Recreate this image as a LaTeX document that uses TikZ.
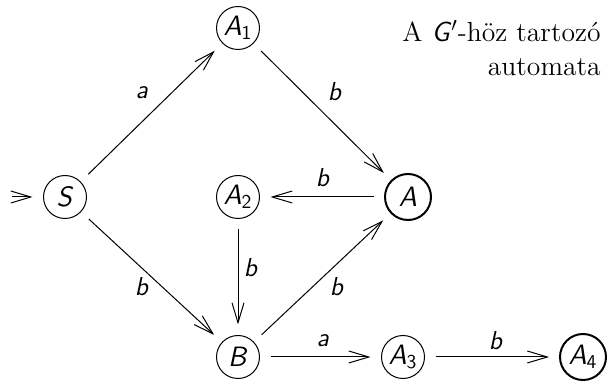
\documentclass[tikz,border=0pt]{standalone}
\usepackage{fontspec}
\usetikzlibrary{arrows.meta}
\newcommand\sv[1]{\textsf{\textit{#1}}}
\newcommand\st[2]{\textsf{\textit{#1}}\textsubscript{\textsf{#2}}}
\begin{document}
\begin{tikzpicture}[x=0.5pt,y=-0.5pt,
  state/.style={circle,draw,line width=0.5pt,minimum size=21.5pt,inner sep=0pt,outer sep=5.5pt,font=\fontsize{14}{16}\selectfont},
  final/.style={state,line width=1pt,minimum size=23pt},
  tr/.style={draw,line width=0.5pt,-{Straight Barb[length=10pt,width=6pt]}},
  lab/.style={font=\fontsize{13}{15}\selectfont,inner sep=0pt}]
\useasboundingbox (0,0) rectangle (610,389);
\node[state] (S) at (65,197) {\sv{S}};
\node[state] (A1) at (238,28) {\st{A}{1}};
\node[state] (A2) at (238,197) {\st{A}{2}};
\node[final] (A) at (408,197) {\sv{A}};
\node[state] (B) at (238,357) {\sv{B}};
\node[state] (A3) at (403,357) {\st{A}{3}};
\node[final] (A4) at (583,357) {\st{A}{4}};
\coordinate (st) at (12,197);
\draw[tr] (st) -- (S.west);
\draw[tr] (S) -- (A1);
\draw[tr] (A1) -- (A);
\draw[tr] (A) -- (A2);
\draw[tr] (A2) -- (B);
\draw[tr] (S) -- (B);
\draw[tr] (B) -- (A);
\draw[tr] (B) -- (A3);
\draw[tr] (A3) -- (A4);
\node[lab] (l1) at (142,93) {\sv{a}};
\node[lab] (l2) at (335,92) {\sv{b}};
\node[lab] (l3) at (323,178) {\sv{b}};
\node[lab] (l4) at (251,268) {\sv{b}};
\node[lab] (l5) at (142,287) {\sv{b}};
\node[lab] (l6) at (337,287) {\sv{b}};
\node[lab] (l7) at (323,341) {\sv{a}};
\node[lab] (l8) at (496,341) {\sv{b}};
\node[anchor=north east,align=right,inner sep=0pt,font=\fontsize{13.8}{17}\selectfont] (t) at (601,20) {A \sv{G}$'$-höz tartozó\\automata};
\end{tikzpicture}
\end{document}
